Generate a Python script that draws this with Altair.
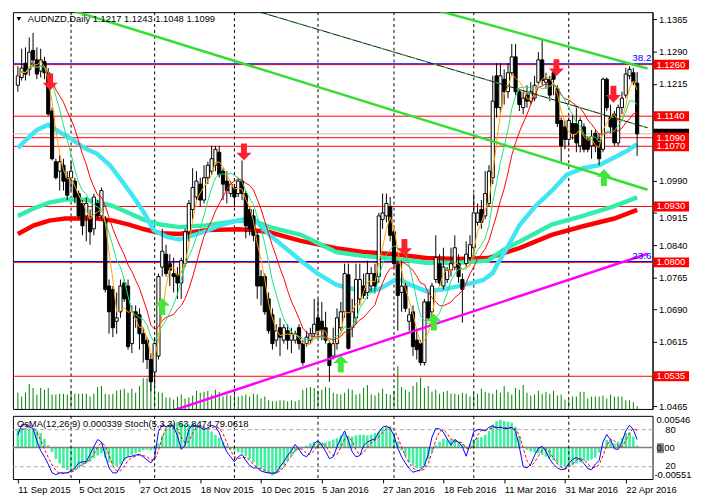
import altair as alt
import pandas as pd

# ---------------- data ----------------
opens = [
1.1212, 1.1230, 1.1263, 1.1249, 1.1293, 1.1271, 1.1245, 1.1267, 1.1241, 1.1152,
1.1034, 1.1012, 1.1026, 1.0997, 1.0997, 1.0989, 1.0960, 1.0937, 1.0908, 1.0900,
1.0878, 1.0937, 1.0908, 1.0900, 1.0745, 1.0737, 1.0663, 1.0685, 1.0752, 1.0745,
1.0611, 1.0685, 1.0678, 1.0634, 1.0619, 1.0574, 1.0545, 1.0582, 1.0789, 1.0819,
1.0797, 1.0774, 1.0771, 1.0752, 1.0797, 1.0871, 1.0923, 1.0952, 1.0982, 1.0945,
1.0997, 1.1012, 1.1026, 1.1056, 1.1012, 1.0989, 1.0960, 1.0974, 1.0960, 1.0989,
1.0960, 1.0923, 1.0908, 1.0863, 1.0767, 1.0767, 1.0715, 1.0678, 1.0619, 1.0648,
1.0619, 1.0641, 1.0619, 1.0619, 1.0648, 1.0611, 1.0611, 1.0619, 1.0634, 1.0671,
1.0663, 1.0648, 1.0611, 1.0582, 1.0611, 1.0648, 1.0685, 1.0771, 1.0648, 1.0671,
1.0715, 1.0745, 1.0730, 1.0745, 1.0774, 1.0767, 1.0900, 1.0908, 1.0930, 1.0871,
1.0797, 1.0730, 1.0745, 1.0663, 1.0685, 1.0619, 1.0611, 1.0567, 1.0708, 1.0685,
1.0760, 1.0797, 1.0745, 1.0760, 1.0782, 1.0789, 1.0797, 1.0760, 1.0797, 1.0811,
1.0834, 1.0893, 1.0923, 1.0908, 1.0937, 1.0997, 1.1234, 1.1160, 1.1226, 1.1197,
1.1241, 1.1278, 1.1197, 1.1160, 1.1189, 1.1175, 1.1182, 1.1219, 1.1271, 1.1219,
1.1226, 1.1241, 1.1204, 1.1130, 1.1115, 1.1086, 1.1123, 1.1123, 1.1071, 1.1115,
1.1086, 1.1071, 1.1100, 1.1086, 1.1063, 1.1226, 1.1137, 1.1145, 1.1078, 1.1160,
1.1189, 1.1234, 1.1241, 1.1217]
highs = [
1.1256, 1.1297, 1.1300, 1.1323, 1.1334, 1.1300, 1.1297, 1.1278, 1.1252, 1.1160,
1.1041, 1.1049, 1.1041, 1.1012, 1.1034, 1.0997, 1.0967, 1.0945, 1.0952, 1.0923,
1.0960, 1.0945, 1.0974, 1.0908, 1.0760, 1.0745, 1.0730, 1.0760, 1.0760, 1.0760,
1.0700, 1.0700, 1.0693, 1.0648, 1.0626, 1.0589, 1.0626, 1.0774, 1.0878, 1.0841,
1.0819, 1.0811, 1.0789, 1.0811, 1.0878, 1.0945, 1.1019, 1.1012, 1.0997, 1.1026,
1.1034, 1.1071, 1.1071, 1.1071, 1.1019, 1.1012, 1.0989, 1.0982, 1.0997, 1.1037,
1.0967, 1.0930, 1.0923, 1.0871, 1.0782, 1.0774, 1.0730, 1.0693, 1.0656, 1.0671,
1.0656, 1.0656, 1.0648, 1.0641, 1.0656, 1.0619, 1.0641, 1.0648, 1.0715, 1.0715,
1.0708, 1.0685, 1.0619, 1.0648, 1.0693, 1.0708, 1.0797, 1.0797, 1.0715, 1.0797,
1.0797, 1.0774, 1.0804, 1.0789, 1.0797, 1.0915, 1.0960, 1.0960, 1.0952, 1.0878,
1.0804, 1.0804, 1.0752, 1.0693, 1.0700, 1.0641, 1.0619, 1.0715, 1.0730, 1.0752,
1.0863, 1.0819, 1.0834, 1.0789, 1.0834, 1.0863, 1.0819, 1.0774, 1.0849, 1.0863,
1.0960, 1.0937, 1.0945, 1.1012, 1.1026, 1.1234, 1.1263, 1.1263, 1.1249, 1.1263,
1.1308, 1.1308, 1.1204, 1.1197, 1.1212, 1.1219, 1.1234, 1.1289, 1.1319, 1.1241,
1.1234, 1.1249, 1.1212, 1.1137, 1.1130, 1.1137, 1.1145, 1.1160, 1.1137, 1.1123,
1.1093, 1.1108, 1.1108, 1.1100, 1.1230, 1.1230, 1.1167, 1.1152, 1.1167, 1.1197,
1.1252, 1.1256, 1.1252, 1.1243]
lows = [
1.1197, 1.1223, 1.1223, 1.1234, 1.1256, 1.1226, 1.1230, 1.1226, 1.1141, 1.1037,
1.0993, 1.0967, 1.0967, 1.0945, 1.0967, 1.0937, 1.0900, 1.0863, 1.0849, 1.0841,
1.0863, 1.0900, 1.0900, 1.0730, 1.0634, 1.0626, 1.0634, 1.0671, 1.0708, 1.0597,
1.0589, 1.0648, 1.0597, 1.0567, 1.0552, 1.0500, 1.0515, 1.0574, 1.0767, 1.0767,
1.0745, 1.0730, 1.0715, 1.0715, 1.0789, 1.0849, 1.0900, 1.0945, 1.0930, 1.0937,
1.0982, 1.1004, 1.1012, 1.0997, 1.0945, 1.0937, 1.0952, 1.0930, 1.0952, 1.0945,
1.0856, 1.0863, 1.0849, 1.0715, 1.0700, 1.0678, 1.0634, 1.0597, 1.0604, 1.0582,
1.0611, 1.0597, 1.0589, 1.0611, 1.0597, 1.0560, 1.0604, 1.0611, 1.0626, 1.0626,
1.0619, 1.0611, 1.0522, 1.0574, 1.0597, 1.0641, 1.0671, 1.0597, 1.0626, 1.0656,
1.0700, 1.0715, 1.0715, 1.0730, 1.0730, 1.0752, 1.0878, 1.0893, 1.0849, 1.0789,
1.0641, 1.0685, 1.0685, 1.0641, 1.0582, 1.0574, 1.0560, 1.0560, 1.0663, 1.0671,
1.0752, 1.0745, 1.0737, 1.0752, 1.0767, 1.0782, 1.0752, 1.0660, 1.0789, 1.0804,
1.0819, 1.0885, 1.0878, 1.0900, 1.0930, 1.0982, 1.1137, 1.1145, 1.1167, 1.1182,
1.1234, 1.1189, 1.1152, 1.1145, 1.1160, 1.1167, 1.1175, 1.1212, 1.1212, 1.1204,
1.1175, 1.1189, 1.1115, 1.1034, 1.1063, 1.1071, 1.1086, 1.1056, 1.1056, 1.1056,
1.1056, 1.1041, 1.1056, 1.1026, 1.1056, 1.1152, 1.1100, 1.1071, 1.1071, 1.1145,
1.1182, 1.1226, 1.1212, 1.1048]
closes = [
1.1234, 1.1252, 1.1238, 1.1289, 1.1271, 1.1238, 1.1271, 1.1241, 1.1145, 1.1041,
1.0997, 1.1034, 1.0989, 1.0956, 1.1012, 1.0952, 1.0908, 1.0885, 1.0937, 1.0871,
1.0952, 1.0908, 1.0967, 1.0737, 1.0685, 1.0648, 1.0671, 1.0745, 1.0715, 1.0604,
1.0685, 1.0671, 1.0634, 1.0611, 1.0574, 1.0522, 1.0611, 1.0767, 1.0826, 1.0774,
1.0782, 1.0767, 1.0752, 1.0804, 1.0871, 1.0937, 1.0974, 1.0989, 1.0945, 1.0997,
1.1026, 1.1041, 1.1063, 1.1004, 1.0982, 1.0967, 1.0982, 1.0952, 1.0989, 1.0960,
1.0885, 1.0878, 1.0863, 1.0745, 1.0745, 1.0685, 1.0641, 1.0611, 1.0641, 1.0626,
1.0648, 1.0619, 1.0634, 1.0634, 1.0611, 1.0567, 1.0626, 1.0634, 1.0656, 1.0641,
1.0641, 1.0619, 1.0560, 1.0611, 1.0671, 1.0685, 1.0774, 1.0600, 1.0685, 1.0760,
1.0760, 1.0723, 1.0774, 1.0774, 1.0745, 1.0908, 1.0915, 1.0937, 1.0863, 1.0797,
1.0723, 1.0745, 1.0693, 1.0678, 1.0604, 1.0597, 1.0567, 1.0708, 1.0671, 1.0745,
1.0811, 1.0752, 1.0789, 1.0782, 1.0797, 1.0834, 1.0767, 1.0737, 1.0819, 1.0841,
1.0915, 1.0915, 1.0893, 1.0960, 1.1012, 1.1175, 1.1160, 1.1234, 1.1197, 1.1241,
1.1278, 1.1197, 1.1167, 1.1182, 1.1175, 1.1197, 1.1212, 1.1271, 1.1223, 1.1226,
1.1189, 1.1226, 1.1123, 1.1071, 1.1086, 1.1130, 1.1100, 1.1078, 1.1130, 1.1063,
1.1063, 1.1093, 1.1071, 1.1041, 1.1226, 1.1160, 1.1115, 1.1078, 1.1160, 1.1182,
1.1238, 1.1249, 1.1219, 1.1099]
tick_volume_k = [
17, 13, 17, 26, 22, 15, 22, 20, 22, 15,
15, 16, 16, 15, 19, 16, 16, 16, 16, 13,
16, 23, 24, 16, 15, 16, 19, 20, 21, 17,
21, 17, 24, 32, 32, 28, 25, 18, 17, 12,
12, 10, 13, 15, 11, 12, 14, 19, 17, 18,
19, 15, 20, 18, 13, 15, 14, 16, 13, 14,
15, 13, 16, 15, 11, 13, 9, 8, 8, 9,
9, 8, 9, 8, 9, 20, 22, 23, 22, 19,
20, 23, 22, 17, 16, 15, 17, 21, 20, 15,
16, 22, 25, 15, 14, 17, 21, 16, 15, 19,
45, 23, 20, 18, 24, 28, 33, 22, 24, 18,
20, 16, 18, 19, 16, 16, 15, 17, 16, 13,
17, 16, 21, 18, 17, 16, 20, 17, 24, 18,
15, 22, 20, 25, 17, 14, 15, 19, 16, 18,
16, 19, 14, 15, 10, 9, 13, 13, 18, 18,
11, 13, 13, 13, 14, 11, 15, 13, 13, 13,
9, 9, 7, 3]
osma = [
0.0033, 0.0034, 0.0034, 0.0033, 0.0032, 0.0029, 0.0025, 0.0015, 0.0004, -0.0008,
-0.0020, -0.0028, -0.0036, -0.0039, -0.0041, -0.0039, -0.0036, -0.0032, -0.0028, -0.0025,
-0.0019, -0.0014, -0.0010, -0.0018, -0.0026, -0.0031, -0.0033, -0.0030, -0.0023, -0.0016,
-0.0013, -0.0010, -0.0008, -0.0005, -0.0004, -0.0005, -0.0005, 0.0007, 0.0021, 0.0032,
0.0037, 0.0042, 0.0044, 0.0043, 0.0041, 0.0040, 0.0040, 0.0039, 0.0038, 0.0036,
0.0032, 0.0028, 0.0022, 0.0017, 0.0010, 0.0003, -0.0003, -0.0005, -0.0008, -0.0010,
-0.0015, -0.0020, -0.0026, -0.0032, -0.0038, -0.0042, -0.0045, -0.0049, -0.0045, -0.0039,
-0.0031, -0.0023, -0.0015, -0.0008, -0.0004, -0.0001, 0.0003, 0.0007, 0.0009, 0.0010,
0.0009, 0.0009, 0.0011, 0.0014, 0.0016, 0.0021, 0.0024, 0.0019, 0.0019, 0.0021,
0.0022, 0.0022, 0.0021, 0.0022, 0.0025, 0.0027, 0.0033, 0.0037, 0.0036, 0.0024,
0.0010, -0.0005, -0.0015, -0.0026, -0.0032, -0.0036, -0.0037, -0.0034, -0.0021, -0.0008,
0.0004, 0.0010, 0.0015, 0.0014, 0.0014, 0.0014, 0.0010, 0.0006, 0.0002, 0.0007,
0.0013, 0.0017, 0.0018, 0.0022, 0.0029, 0.0040, 0.0046, 0.0048, 0.0046, 0.0045,
0.0043, 0.0036, 0.0019, 0.0001, -0.0004, -0.0007, -0.0009, -0.0010, -0.0013, -0.0016,
-0.0019, -0.0022, -0.0028, -0.0032, -0.0035, -0.0034, -0.0031, -0.0028, -0.0026, -0.0023,
-0.0023, -0.0021, -0.0018, -0.0009, 0.0002, 0.0013, 0.0013, 0.0007, 0.0010, 0.0017,
0.0025, 0.0026, 0.0019, 0.000339]
stoch_main = [
71, 88, 88, 84, 82, 62, 46, 36, 24, 10,
7, 10, 10, 10, 13, 18, 26, 28, 28, 40,
52, 64, 60, 38, 18, 10, 10, 20, 33, 36,
37, 39, 40, 36, 31, 26, 35, 77, 88, 85,
88, 85, 70, 48, 55, 80, 88, 85, 84, 80,
83, 87, 85, 75, 58, 44, 36, 28, 36, 40,
30, 22, 18, 18, 13, 11, 10, 9, 10, 20,
28, 38, 46, 56, 48, 39, 36, 44, 58, 62,
55, 45, 33, 36, 52, 66, 78, 62, 44, 36,
38, 54, 60, 63, 65, 76, 84, 86, 82, 71,
50, 36, 26, 17, 11, 13, 15, 21, 40, 68,
82, 81, 76, 65, 55, 64, 60, 52, 37, 56,
77, 80, 80, 78, 84, 86, 83, 84, 82, 82,
84, 77, 52, 20, 18, 24, 38, 50, 53, 45,
32, 24, 18, 15, 16, 25, 32, 35, 32, 25,
17, 15, 24, 30, 60, 72, 64, 49, 48, 60,
78, 87, 80, 63.8474]
stoch_signal = [
75, 80, 82, 87, 85, 76, 63, 48, 35, 23,
14, 9, 9, 10, 11, 14, 19, 24, 27, 32,
40, 52, 59, 54, 39, 22, 13, 13, 21, 30,
35, 37, 39, 38, 36, 31, 31, 46, 67, 83,
87, 86, 81, 68, 58, 61, 74, 84, 86, 83,
82, 83, 85, 82, 73, 59, 46, 36, 33, 35,
35, 31, 23, 19, 16, 14, 11, 10, 10, 13,
19, 29, 37, 47, 50, 48, 41, 40, 46, 55,
58, 54, 44, 38, 40, 51, 65, 69, 61, 47,
39, 43, 51, 59, 63, 68, 75, 82, 84, 80,
68, 52, 37, 26, 18, 14, 13, 16, 25, 43,
63, 77, 80, 74, 65, 61, 60, 59, 50, 48,
57, 71, 79, 79, 81, 83, 84, 84, 83, 83,
83, 81, 71, 50, 30, 21, 27, 37, 47, 49,
43, 34, 25, 19, 16, 19, 24, 31, 33, 31,
25, 19, 19, 23, 38, 54, 65, 62, 54, 52,
62, 75, 82, 79.0618]

# moving averages (bar position, price)
ma50_bars = [0, 2.5, 5, 8, 10.75, 14.25, 17.5, 20.75, 24.25, 27.5, 30.75, 33.25, 35.75, 39.25,
             42.5, 48.75, 53.75, 58.75, 61.75, 66.25, 70.5, 74.5, 78.75, 83.75, 86.75, 90.75,
             95, 99.25, 100.75, 103.25, 107.5, 111.75, 115.75, 120, 122.5, 125, 126.25, 128.75,
             132, 136.25, 140.5, 144.5, 148.75, 153, 157, 160.5, 163]
ma50_vals = [1.1066, 1.1088, 1.1108, 1.1120, 1.1104, 1.1086, 1.1066, 1.1053, 1.1026, 1.0988,
             1.0948, 1.0915, 1.0875, 1.0859, 1.0853, 1.0870, 1.0888, 1.0899, 1.0904, 1.0864,
             1.0833, 1.0804, 1.0775, 1.0748, 1.0741, 1.0733, 1.0737, 1.0759, 1.0759, 1.0748,
             1.0733, 1.0737, 1.0744, 1.0753, 1.0759, 1.0775, 1.0797, 1.0833, 1.0886, 1.0931,
             1.0966, 1.1004, 1.1019, 1.1026, 1.1044, 1.1060, 1.1075]
ma100_bars = [0, 4.25, 8.25, 12.5, 16.75, 20.75, 25, 29.25, 33.25, 37.5, 42.5, 49.5, 58, 62,
              66.25, 74.5, 83.75, 90.75, 99.25, 107.5, 115.75, 123.75, 128, 132, 140.5, 148.75,
              157, 163]
ma100_vals = [1.0908, 1.0926, 1.0939, 1.0946, 1.0946, 1.0942, 1.0931, 1.0915, 1.0899, 1.0888,
              1.0882, 1.0886, 1.0897, 1.0897, 1.0882, 1.0864, 1.0824, 1.0815, 1.0808, 1.0799,
              1.0799, 1.0804, 1.0830, 1.0848, 1.0888, 1.0908, 1.0931, 1.0951]
ma200_bars = [0, 4.25, 8.25, 12.5, 20.75, 25, 29.25, 33.25, 37.5, 42.5, 49.5, 58, 62, 66.25,
              74.5, 83.75, 90.75, 99.25, 107.5, 115.75, 123.75, 132, 140.5, 148.75, 157, 163]
ma200_vals = [1.0866, 1.0886, 1.0897, 1.0902, 1.0902, 1.0897, 1.0888, 1.0877, 1.0868, 1.0866,
              1.0875, 1.0877, 1.0875, 1.0870, 1.0850, 1.0833, 1.0824, 1.0819, 1.0810, 1.0808,
              1.0810, 1.0833, 1.0864, 1.0884, 1.0902, 1.0922]

level_values = [1.1260, 1.1140, 1.1090, 1.1070, 1.0930, 1.0800, 1.0535]
fib_values = [1.1262, 1.0802]
fib_labels = ["38.2", "23.6"]
# axis ticks that are not hidden behind the red level boxes
price_ticks = [1.1365, 1.1290, 1.1215, 1.0990, 1.0915, 1.0840,
               1.0765, 1.0690, 1.0615, 1.0465]

# trend lines (bar position, price) pairs
trend_names = ["g1", "g1", "g2", "g2", "dk", "dk", "mg", "mg"]
trend_bars = [10, 165.75, 110, 165.75, 60, 165.75, 40, 165.75]
trend_prices = [1.1398, 1.0969, 1.1387, 1.1251, 1.1392, 1.1113, 1.0453, 1.0820]

arrow_down_bars = [8.5, 59.5, 101.75, 141.75, 156.75]
arrow_down_prices = [1.1220, 1.1057, 1.0835, 1.1253, 1.1191]
arrow_up_bars = [38, 85, 109.5, 154.25]
arrow_up_prices = [1.0697, 1.0564, 1.0661, 1.0997]

month_start_bars = [14, 36, 57, 79, 99, 120, 145]
date_label_bars = [0, 16, 32, 48, 64, 80, 96, 112, 128, 144, 160]
date_labels = ["11 Sep 2015", "5 Oct 2015", "27 Oct 2015", "18 Nov 2015", "10 Dec 2015",
               "5 Jan 2016", "27 Jan 2016", "18 Feb 2016", "11 Mar 2016", "31 Mar 2016",
               "22 Apr 2016"]

osc_label_text = ["0.00546", "80", "0.00", "20", "-0.00551"]
osc_label_pos = [95.5, 80, 50, 21, 6]
osc_label_group = ["a", "b", "a", "b", "c"]

# ---------------- chart ----------------
W, H1, H2 = 648, 402, 64
FONT = "Liberation Sans"
XDOM = [0, 165.75]
PDOM = [1.0459, 1.1382]

n = len(closes)
cdf = pd.DataFrame({"i": list(range(n)), "o": opens, "h": highs, "l": lows,
                    "c": closes, "v": tick_volume_k})
xs = alt.Scale(domain=XDOM, nice=False, zero=False)
ps = alt.Scale(domain=PDOM, nice=False, zero=False)
price_axis = alt.Axis(orient="right", values=price_ticks, format=".4f", title=None, grid=False,
                      tickSize=4, tickColor="black", domainColor="black", labelColor="black",
                      labelFont=FONT, labelFontSize=9.5, labelPadding=2, labelFlush=False,
                      labelOverlap=False, labelBound=False,
                      labelBaseline={"condition": {"test": "abs(datum.value - 1.0915) < 0.00001",
                                                   "value": "top"}, "value": "middle"})


def X():
    return alt.X("i:Q", scale=xs, axis=None)


def Y(f):
    return alt.Y(f"{f}:Q", scale=ps, axis=price_axis)


base = alt.Chart(cdf)
month_df = pd.DataFrame({"i": month_start_bars})
vsep = alt.Chart(month_df).mark_rule(color="black", strokeDash=[3, 3], strokeWidth=1).encode(x=X())

lvl_df = pd.DataFrame({"p": level_values})
lvl_rules = alt.Chart(lvl_df).mark_rule(color="#ff0000", strokeWidth=1).encode(y=Y("p"))
fib_df = pd.DataFrame({"p": fib_values, "t": fib_labels})
fib_rules = alt.Chart(fib_df).mark_rule(color="#0000ff", strokeWidth=1).encode(y=Y("p"))
bid_df = pd.DataFrame({"p": [closes[-1]]})
bid_rule = alt.Chart(bid_df).mark_rule(color="#c0c0c0", strokeWidth=1).encode(y=Y("p"))

vol = base.mark_bar(width=1, color="#008000").encode(
    x=X(), y=alt.Y("v:Q", scale=alt.Scale(domain=[0, 415], nice=False), axis=None))

tl = pd.DataFrame({"i": trend_bars, "p": trend_prices, "name": trend_names})
green_lines = alt.Chart(tl[tl.name.isin(["g1", "g2"])]).mark_line(
    color="#33dd33", strokeWidth=2.5, clip=True).encode(x=X(), y=Y("p"), detail="name:N")
dark_line = alt.Chart(tl[tl.name == "dk"]).mark_line(
    color="#111111", strokeWidth=1, clip=True).encode(x=X(), y=Y("p"))
dark_dash = alt.Chart(tl[tl.name == "dk"]).mark_line(
    color="#33dd33", strokeWidth=1, strokeDash=[4, 7], clip=True).encode(x=X(), y=Y("p"))
magenta = alt.Chart(tl[tl.name == "mg"]).mark_line(
    color="#ff00ff", strokeWidth=2.5, clip=True).encode(x=X(), y=Y("p"))

ma200 = alt.Chart(pd.DataFrame({"i": ma200_bars, "p": ma200_vals})).mark_line(
    color="#ff0000", strokeWidth=4.5).encode(x=X(), y=Y("p"))
ma100 = alt.Chart(pd.DataFrame({"i": ma100_bars, "p": ma100_vals})).mark_line(
    color="#33eeaa", strokeWidth=4.5).encode(x=X(), y=Y("p"))
ma50 = alt.Chart(pd.DataFrame({"i": ma50_bars, "p": ma50_vals})).mark_line(
    color="#40e6f2", strokeWidth=4.5).encode(x=X(), y=Y("p"))

wick = base.mark_rule(color="black", strokeWidth=1).encode(x=X(), y=Y("l"), y2="h:Q")
body = base.mark_bar(width=3.2, stroke="black", strokeWidth=1).encode(
    x=X(), y=Y("o"), y2="c:Q",
    fill=alt.condition("datum.c >= datum.o", alt.value("white"), alt.value("black")))

srt = [alt.SortField(field="i", order="ascending")]
thin = (base.transform_window(ma_fast="mean(c)", frame=[-3, 0], sort=srt)
        .transform_window(ma_mid="mean(c)", frame=[-7, 0], sort=srt)
        .transform_window(ma_slow="mean(c)", frame=[-12, 0], sort=srt))
red_thin = thin.mark_line(color="#ff0000", strokeWidth=1).encode(x=X(), y=Y("ma_slow"))
green_thin = thin.mark_line(color="#1de47a", strokeWidth=1).encode(x=X(), y=Y("ma_mid"))
orange_thin = thin.mark_line(color="#ffa500", strokeWidth=1).encode(x=X(), y=Y("ma_fast"))

DOWN = "M-0.35,-1L0.35,-1L0.35,0.1L0.9,0.1L0,1L-0.9,0.1L-0.35,0.1Z"
UP = "M-0.35,1L0.35,1L0.35,-0.1L0.9,-0.1L0,-1L-0.9,-0.1L-0.35,-0.1Z"
dn = alt.Chart(pd.DataFrame({"i": arrow_down_bars, "p": arrow_down_prices})).mark_point(
    shape=DOWN, size=290, filled=True, color="#ff1f2f", opacity=1, strokeWidth=0).encode(
    x=X(), y=Y("p"))
up = alt.Chart(pd.DataFrame({"i": arrow_up_bars, "p": arrow_up_prices})).mark_point(
    shape=UP, size=290, filled=True, color="#44e63a", opacity=1, strokeWidth=0).encode(
    x=X(), y=Y("p"))

fib_txt = alt.Chart(fib_df).mark_text(align="right", baseline="bottom", color="#0000ff",
                                      font=FONT, fontSize=10, dy=-1).encode(
    x=alt.value(W - 1), y=Y("p"), text="t:N")

BOX = "M-1,-0.28L1,-0.28L1,0.28L-1,0.28Z"
bid_box = alt.Chart(bid_df).mark_point(shape=BOX, size=1296, filled=True, color="black",
                                       opacity=1, strokeWidth=0).encode(
    x=alt.value(W + 19), y=Y("p"))
boxes = alt.Chart(lvl_df).mark_point(shape=BOX, size=1296, filled=True, color="#ff0000",
                                     opacity=1, strokeWidth=0).encode(
    x=alt.value(W + 19), y=Y("p"))
box_txt = alt.Chart(lvl_df).mark_text(align="left", baseline="middle", color="white",
                                      font=FONT, fontSize=9.5).encode(
    x=alt.value(W + 4), y=Y("p"), text=alt.Text("p:Q", format=".4f"))

title_text = "AUDNZD,Daily  %.4f %.4f %.4f %.4f" % (opens[-1], highs[-1], lows[-1], closes[-1])
tdf = pd.DataFrame({"t": [title_text]})
title = alt.Chart(tdf).mark_text(align="left", baseline="middle", font=FONT, fontSize=9.5,
                                 color="black").encode(x=alt.value(15), y=alt.value(7), text="t:N")
tri = alt.Chart(tdf).mark_point(shape="triangle-down", size=22, filled=True, color="black",
                                opacity=1).encode(x=alt.value(6), y=alt.value(7))

price_group = alt.layer(vsep, lvl_rules, bid_rule, fib_rules, ma200, ma100, ma50, wick, body,
                        red_thin, green_thin, orange_thin, dark_line, dark_dash, green_lines,
                        magenta, dn, up, fib_txt, bid_box, boxes, box_txt, title, tri)
main = alt.layer(vol, price_group).resolve_scale(y="independent").properties(width=W, height=H1)

# ---- oscillator panel ----
odf = pd.DataFrame({"i": list(range(n)), "osma": osma, "s": stoch_main, "sig": stoch_signal})
ss = alt.Scale(domain=[0, 102.4], nice=False, zero=False)
os_scale = alt.Scale(domain=[-0.0055, 0.0055], nice=False)
labels_js = "[" + ",".join("'%s'" % s for s in date_labels) + "]"
bars_js = "[" + ",".join(str(b) for b in date_label_bars) + "]"
date_axis = alt.Axis(values=date_label_bars, labelExpr=f"{labels_js}[indexof({bars_js}, datum.value)]",
                     title=None, grid=False, domain=False, tickSize=4, tickColor="black",
                     labelAlign="left", labelFont=FONT, labelFontSize=9.5, labelColor="black",
                     labelPadding=2, labelFlush=False, labelOverlap=False, labelBound=False)


def XO():
    return alt.X("i:Q", scale=xs, axis=date_axis)


def YS(f):
    return alt.Y(f"{f}:Q", scale=ss, axis=None)


osma_bars = alt.Chart(odf).mark_bar(width=2.6, color="#3cf0a0").encode(
    x=XO(), y=alt.Y("osma:Q", scale=os_scale, axis=None))
zero_rule = alt.Chart(pd.DataFrame({"z": [0.0]})).mark_rule(color="#808080", strokeWidth=1.5).encode(
    y=alt.Y("z:Q", scale=os_scale, axis=None))
osma_group = alt.layer(osma_bars, zero_rule)

osep = alt.Chart(month_df).mark_rule(color="black", strokeDash=[3, 3], strokeWidth=1).encode(x=XO())
lv = alt.Chart(pd.DataFrame({"s": [80, 20]})).mark_rule(color="#aaaaaa", strokeDash=[4, 3]).encode(
    y=YS("s"))
sig = alt.Chart(odf).mark_line(color="#ff0000", strokeWidth=1, strokeDash=[3, 2]).encode(
    x=XO(), y=YS("sig"))
smain = alt.Chart(odf).mark_line(color="#0000ff", strokeWidth=1).encode(x=XO(), y=YS("s"))
olab = pd.DataFrame({"t": osc_label_text, "s": osc_label_pos, "g": osc_label_group})
ogray = alt.Chart(pd.DataFrame({"s": [50]})).mark_point(
    shape="M-0.7,-1L0.7,-1L0.7,1L-0.7,1Z", size=100, filled=True, color="#808080", opacity=1,
    strokeWidth=0).encode(x=alt.value(W + 8), y=YS("s"))


def olabels(g, dx):
    return alt.Chart(olab[olab.g == g]).mark_text(
        align="left", baseline="middle", font=FONT, fontSize=9.5, color="black").encode(
        x=alt.value(W + dx), y=YS("s"), text="t:N")


osc_title = "OsMA(12,26,9) %.6f  Stoch(5,3,3) %.4f %.4f" % (osma[-1], stoch_main[-1], stoch_signal[-1])
otitle = alt.Chart(pd.DataFrame({"t": [osc_title]})).mark_text(
    align="left", baseline="middle", font=FONT, fontSize=9.5, color="black").encode(
    x=alt.value(4), y=alt.value(8), text="t:N")

stoch_group = alt.layer(osep, lv, sig, smain, ogray, olabels("a", 4), olabels("b", 13),
                        olabels("c", 2), otitle)
osc = alt.layer(osma_group, stoch_group).resolve_scale(y="independent").properties(width=W, height=H2)

chart = (alt.vconcat(main, osc, spacing=2)
         .properties(padding={"left": 0, "top": 0, "right": 0, "bottom": 0})
         .configure(background="white", font=FONT)
         .configure_view(stroke="black", strokeWidth=1))

chart.save("out.html", embed_options={"renderer": "svg", "actions": False})
